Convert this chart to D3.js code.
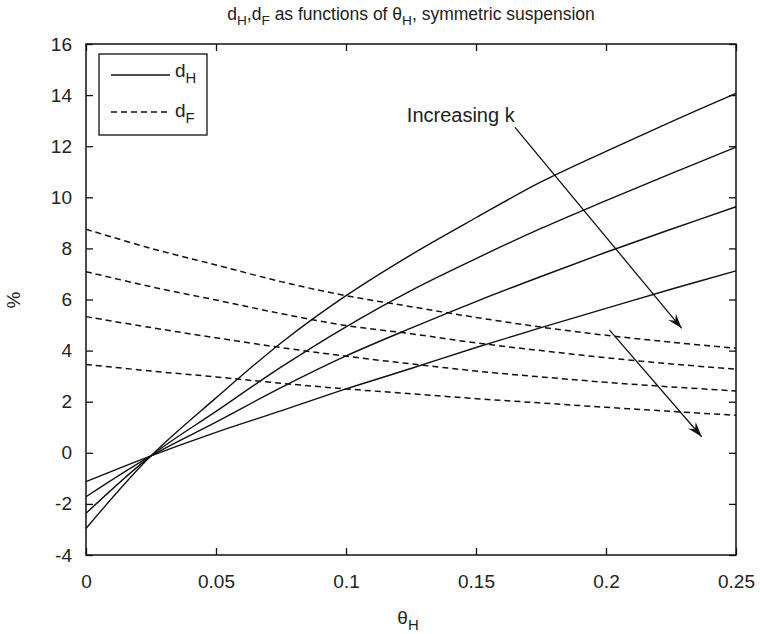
<!DOCTYPE html>
<html><head><meta charset="utf-8">
<script src="https://cdn.jsdelivr.net/npm/d3@7"></script>
<style>body{margin:0;background:#fff}svg{display:block}text{font-family:"Liberation Sans",Arial,sans-serif;fill:#222}</style>
</head><body>
<script>
const thetaH = [0, 0.025, 0.05, 0.075, 0.1, 0.125, 0.15, 0.175, 0.2, 0.225, 0.25];
const dH1 = [-2.96, -0.12, 2.15, 4.3, 6.15, 7.75, 9.2, 10.6, 11.8, 12.95, 14.07];
const dH2 = [-2.37, -0.12, 1.62, 3.35, 4.93, 6.35, 7.6, 8.78, 9.87, 10.93, 11.96];
const dH3 = [-1.72, -0.12, 1.2, 2.55, 3.79, 4.88, 5.92, 6.9, 7.85, 8.75, 9.63];
const dH4 = [-1.13, -0.12, 0.8, 1.64, 2.5, 3.3, 4.12, 4.9, 5.65, 6.4, 7.12];
const dF1 = [8.75, 8.0, 7.35, 6.7, 6.15, 5.72, 5.3, 4.92, 4.6, 4.33, 4.09];
const dF2 = [7.09, 6.5, 5.98, 5.45, 4.98, 4.66, 4.3, 4.0, 3.72, 3.48, 3.27];
const dF3 = [5.33, 4.9, 4.5, 4.12, 3.78, 3.48, 3.2, 2.97, 2.76, 2.58, 2.42];
const dF4 = [3.46, 3.2, 2.97, 2.72, 2.5, 2.31, 2.12, 1.95, 1.78, 1.62, 1.47];
const xTicks = [0, 0.05, 0.1, 0.15, 0.2, 0.25];
const xTickLabels = ["0", "0.05", "0.1", "0.15", "0.2", "0.25"];
const yTicks = [-4, -2, 0, 2, 4, 6, 8, 10, 12, 14, 16];
const yTickLabels = ["-4", "-2", "0", "2", "4", "6", "8", "10", "12", "14", "16"];
// annotation arrows in data units [x0,y0,x1,y1]
const arrows = [[0.165, 12.74, 0.2291, 4.87], [0.2013, 4.81, 0.2368, 0.63]];
const annotation = {text: "Increasing k", x: 0.1234, y: 12.94};

const W = 760, H = 634;
const L = 86, R = 736, T = 44, B = 555;
const svg = d3.select("body").append("svg").attr("width", W).attr("height", H);
const x = d3.scaleLinear().domain([0, 0.25]).range([L, R]);
const y = d3.scaleLinear().domain([-4, 16]).range([B, T]);

const fs = 19;
const ax = svg.append("g").attr("transform", `translate(0,${B})`)
  .call(d3.axisBottom(x).tickValues(xTicks).tickFormat((d,i)=>xTickLabels[i]).tickSizeInner(-7).tickSizeOuter(0).tickPadding(20));
const axT = svg.append("g").attr("transform", `translate(0,${T})`)
  .call(d3.axisTop(x).tickValues(xTicks).tickFormat("").tickSizeInner(-7).tickSizeOuter(0));
const ay = svg.append("g").attr("transform", `translate(${L},0)`)
  .call(d3.axisLeft(y).tickValues(yTicks).tickFormat((d,i)=>yTickLabels[i]).tickSizeInner(-7).tickSizeOuter(0).tickPadding(14));
const ayR = svg.append("g").attr("transform", `translate(${R},0)`)
  .call(d3.axisRight(y).tickValues(yTicks).tickFormat("").tickSizeInner(-7).tickSizeOuter(0));
[ax, axT, ay, ayR].forEach(g => {
  g.select(".domain").remove();
  g.selectAll(".tick line").attr("stroke", "#111").attr("stroke-width", 1.3);
  g.selectAll("text").attr("font-size", fs).attr("fill", "#222").attr("font-family", '"Liberation Sans",Arial,sans-serif');
});
svg.append("rect").attr("x", L).attr("y", T).attr("width", R - L).attr("height", B - T)
  .attr("fill", "none").attr("stroke", "#111").attr("stroke-width", 1.5);

const line = d3.line().x((d,i)=>x(thetaH[i])).y(d=>y(d)).curve(d3.curveCatmullRom.alpha(0.5));
[dH1, dH2, dH3, dH4].forEach(s => svg.append("path").attr("d", line(s)).attr("fill", "none").attr("stroke", "#111").attr("stroke-width", 1.4));
[dF1, dF2, dF3, dF4].forEach(s => svg.append("path").attr("d", line(s)).attr("fill", "none").attr("stroke", "#111").attr("stroke-width", 1.5).attr("stroke-dasharray", "6,4"));

svg.append("defs").append("marker").attr("id", "ah").attr("viewBox", "-16 -6 18 12")
  .attr("refX", 0).attr("refY", 0).attr("markerWidth", 18).attr("markerHeight", 12)
  .attr("markerUnits", "userSpaceOnUse").attr("orient", "auto")
  .append("path").attr("d", "M0,0 L-15,-5 L-10,0 L-15,5 Z").attr("fill", "#111");
arrows.forEach(a => svg.append("line").attr("x1", x(a[0])).attr("y1", y(a[1])).attr("x2", x(a[2])).attr("y2", y(a[3]))
  .attr("stroke", "#111").attr("stroke-width", 1.3).attr("marker-end", "url(#ah)"));
svg.append("text").attr("x", x(annotation.x)).attr("y", y(annotation.y)).attr("font-size", 20).text(annotation.text);

const lg = svg.append("g");
lg.append("rect").attr("x", 99).attr("y", 54).attr("width", 108).attr("height", 81).attr("fill", "#fff").attr("stroke", "#111").attr("stroke-width", 1.3);
lg.append("line").attr("x1", 111).attr("x2", 170).attr("y1", 75).attr("y2", 75).attr("stroke", "#111").attr("stroke-width", 1.4);
lg.append("line").attr("x1", 111).attr("x2", 170).attr("y1", 112).attr("y2", 112).attr("stroke", "#111").attr("stroke-width", 1.5).attr("stroke-dasharray", "6,4");
function subText(sel, parts, size) {
  parts.forEach(p => {
    if (p.sub) sel.append("tspan").attr("font-size", size * 0.78).attr("dy", size * 0.3).text(p.t);
    else sel.append("tspan").attr("font-size", size).attr("dy", p.after ? -size * 0.3 : 0).text(p.t);
  });
}
subText(lg.append("text").attr("x", 175).attr("y", 77), [{t:"d"},{t:"H",sub:true}], 19);
subText(lg.append("text").attr("x", 175).attr("y", 117), [{t:"d"},{t:"F",sub:true}], 19);

subText(svg.append("text").attr("x", (L + R) / 2).attr("y", 20).attr("text-anchor", "middle"),
  [{t:"d"},{t:"H",sub:true},{t:",d",after:true},{t:"F",sub:true},{t:" as functions of θ",after:true},{t:"H",sub:true},{t:", symmetric suspension",after:true}], 17.5);
subText(svg.append("text").attr("x", (L + R) / 2 - 3).attr("y", 624).attr("text-anchor", "middle"), [{t:"θ"},{t:"H",sub:true}], 19);
svg.append("text").attr("transform", "translate(20,300) rotate(-90)").attr("text-anchor", "middle").attr("font-size", 19).text("%");
</script>
</body></html>
